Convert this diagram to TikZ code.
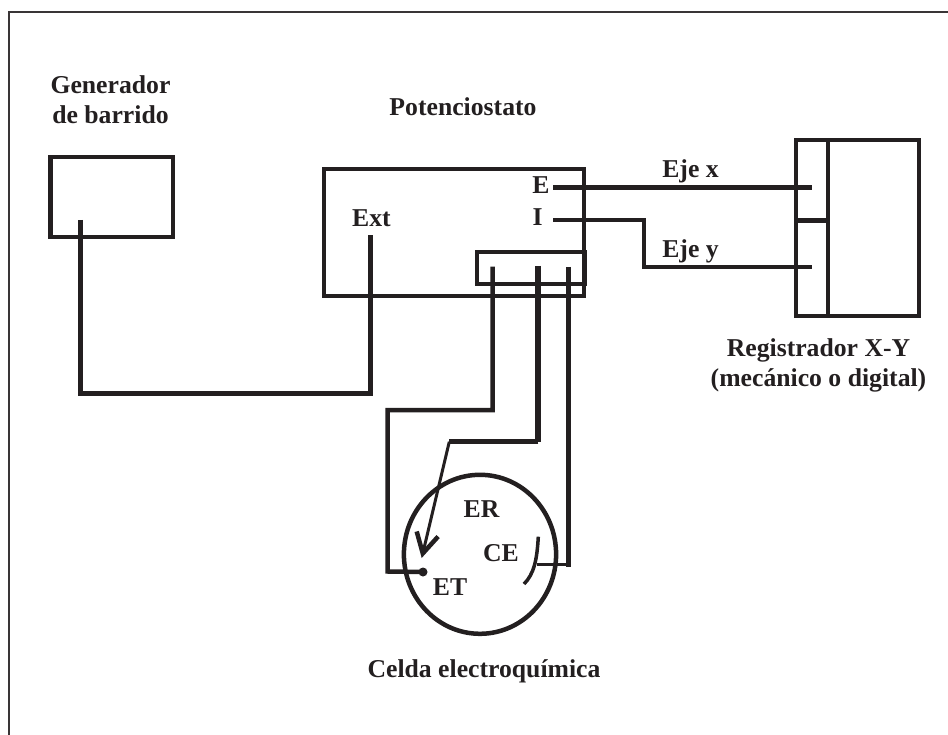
\documentclass[tikz,border=0pt]{standalone}
\usepackage{fontspec}
\setmainfont{Liberation Serif}
\usetikzlibrary{arrows.meta,shapes.geometric}
\definecolor{ink}{HTML}{231F20}
\begin{document}
\begin{tikzpicture}[x=1pt,y=-1pt,
    box/.style={draw=ink,rectangle,line width=4pt,inner sep=0pt,outer sep=0pt},
    wire/.style={draw=ink,line width=4.5pt},
    thick wire/.style={draw=ink,line width=5pt},
    thin wire/.style={draw=ink,line width=2.5pt},
    tag/.style={text=ink,inner sep=0pt,align=center,font=\bfseries\fontsize{25.7}{30.5}\selectfont}]
       \useasboundingbox (0,0) rectangle (948,735);
       \coordinate (frame1) at (8.5,735);
       \coordinate (frame2) at (8.5,12.5);
       \coordinate (frame3) at (948,12.5);
       \draw[draw=ink!90,line width=2pt] (frame1) -- (frame2) -- (frame3);

       \node[tag] (gentag) at (110.5,99.5) {Generador\\de barrido};
       \node[tag] (pottag) at (463,107) {Potenciostato};
       \node[tag] (regtag) at (818.5,365.5) {Registrador X-Y\\(mecánico o digital)};
       \node[tag,anchor=base] (celltag) at (484,677) {Celda electroquímica};
       \node[tag,anchor=base] (ext) at (371.5,227) {Ext};
       \node[tag,anchor=base] (E) at (541,194) {E};
       \node[tag,anchor=base] (I) at (537.5,226) {I};
       \node[tag,anchor=base] (ejex) at (690.5,178) {Eje x};
       \node[tag,anchor=base] (ejey) at (690.5,258) {Eje y};
       \node[tag,anchor=base] (ER) at (481.5,517) {ER};
       \node[tag,anchor=base] (CE) at (501,561) {CE};
       \node[tag,anchor=base] (ET) at (450,595) {ET};

       \node[box,line width=4.5pt,minimum width=122.7pt,minimum height=80pt] (gen) at (111.6,197) {};
       \node[box,minimum width=260pt,minimum height=127pt] (pot) at (453.7,233) {};
       \node[box,minimum width=108.3pt,minimum height=32pt] (jack) at (531.2,268) {};
       \node[box,minimum width=123pt,minimum height=175.4pt] (reg) at (857.8,228) {};
       \node[draw=ink,ellipse,line width=4.5pt,inner sep=0pt,outer sep=0pt,minimum width=152.2pt,minimum height=159pt] (cell) at (480,554.3) {};

       \coordinate (regtop) at (828,140.3);
       \coordinate (regbot) at (828,315.7);
       \coordinate (regleft) at (796.3,220.3);
       \coordinate (regmid) at (828,220.3);
       \draw[wire] (regtop) -- (regbot);
       \draw[wire] (regleft) -- (regmid);

       \coordinate (genout) at (80.5,220);
       \coordinate (extin) at (370.5,235);
       \coordinate (gencorner) at (80.5,393);
       \draw[thick wire] (genout) -- (gencorner) -- (gencorner -| extin) -- (extin);

       \coordinate (Eout) at (553,188);
       \coordinate (Ein) at (812,188);
       \coordinate (Iout) at (553,220);
       \coordinate (Ibend) at (644,220);
       \coordinate (Ibend2) at (644,267);
       \coordinate (Iin) at (812,267);
       \draw[thick wire] (Eout) -- (Ein);
       \draw[wire] (Iout) -- (Ibend) -- (Ibend2) -- (Iin);

       \coordinate (refout) at (492.5,266.7);
       \coordinate (ref1) at (492.5,410);
       \coordinate (ref2) at (387.7,410);
       \coordinate (ref3) at (387.7,571.5);
       \coordinate (refdot) at (423,572);
       \draw[wire] (refout) -- (ref1) -- (ref2) -- (ref3) -- (refdot);
       \node[circle,fill=ink,inner sep=0pt,minimum size=9pt] (dot) at (refdot) {};

       \coordinate (workout) at (538.3,266);
       \coordinate (work1) at (538.3,441.7);
       \coordinate (work2) at (449.3,441.7);
       \coordinate (worktip) at (421.7,558);
       \draw[thick wire,line width=6pt] (workout) -- (work1);
       \draw[wire] (work1) -- (work2);
       \draw[draw=ink,line width=3pt,-{Straight Barb[length=20pt,width=22pt,line width=4.5pt]}] (work2) -- (worktip);

       \coordinate (ceout) at (568.5,267);
       \coordinate (ce1) at (568.5,567);
       \coordinate (ce2) at (568.5,564.5);
       \coordinate (ce3) at (536.5,564.5);
       \coordinate (arc1) at (538.3,536.7);
       \coordinate (arc2) at (524,584);
       \draw[wire] (ceout) -- (ce1);
       \draw[thin wire] (ce2) -- (ce3);
       \draw[draw=ink,line width=3.5pt] (arc1) .. controls (537,560) and (534,574) .. (arc2);
     \end{tikzpicture}
\end{document}
